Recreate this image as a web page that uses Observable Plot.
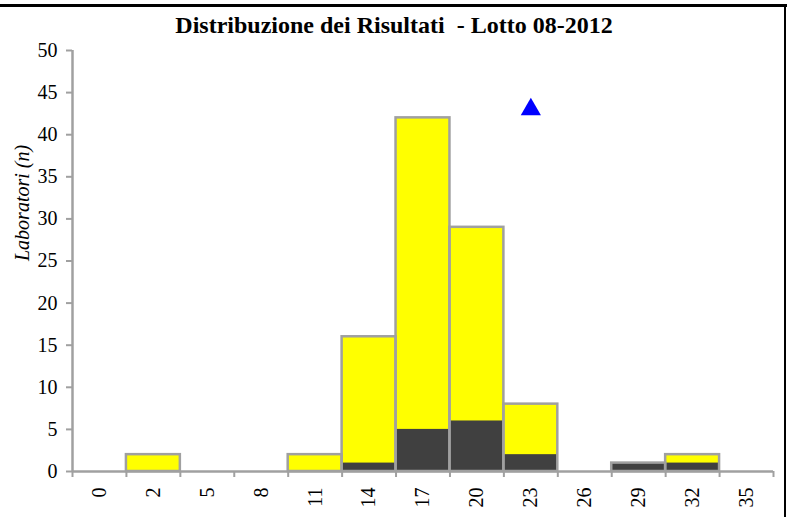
<!DOCTYPE html>
<html>
<head>
<meta charset="utf-8">
<script src="https://cdn.jsdelivr.net/npm/d3@7"></script>
<script src="https://cdn.jsdelivr.net/npm/@observablehq/plot@0.6"></script>
<style>
  body { margin: 0; background: #fff; }
  #wrap { position: relative; width: 787px; height: 517px; overflow: hidden; }
  #wrap svg { display: block; }
  #wrap svg, #wrap svg text, #wrap svg g { font-family: "Liberation Serif", "Times New Roman", serif !important; }
  .bt { position: absolute; left: 0; top: 4px; width: 787px; height: 3px; background: #000; }
  .br { position: absolute; left: 784px; top: 4px; width: 2px; height: 513px; background: #000; }
</style>
</head>
<body>
<div id="wrap"></div>
<script>
const categories = ["0","2","5","8","11","14","17","20","23","26","29","32","35"];
const totals     = [0, 2, 0, 0, 2, 16, 42, 29, 8, 0, 1, 2, 0];
const darkValues = [0, 0, 0, 0, 0, 1, 5, 6, 2, 0, 1, 1, 0];
const markerCategory = ["23"];
const markerValue = [43];
const yTicks = [0,5,10,15,20,25,30,35,40,45,50];
const title = "Distribuzione dei Risultati  - Lotto 08-2012";
const yLabel = "Laboratori (n)";

const W = 787, H = 517, mL = 72, mR = 14, mT = 50, mB = 46;
const bw = (W - mL - mR) / categories.length;
const titleShift = W / 2 - (mL + (W - mL - mR) / 2);

const totalData = categories.map((c, i) => ({c, v: totals[i]}));
const darkData = categories.map((c, i) => ({c, v: darkValues[i]}));
const markerData = markerCategory.map((c, i) => ({c, v: markerValue[i]}));
const gray = "#a0a0a0";
const font = "Liberation Serif";

const chart = Plot.plot({
  width: W, height: H,
  marginLeft: mL, marginRight: mR, marginTop: mT, marginBottom: mB,
  style: {fontFamily: font, fontSize: "20px", color: "#000", background: "#fff"},
  x: {type: "band", domain: categories, padding: 0, round: false},
  y: {domain: [0, 50]},
  marks: [
    Plot.barY(totalData.filter(d => d.v > 0), {x: "c", y: "v", fill: "#ffff00", inset: 0}),
    Plot.barY(darkData.filter(d => d.v > 0), {x: "c", y: "v", fill: "#404040", inset: 0}),
    Plot.barY(totalData.filter(d => d.v > 0), {x: "c", y: "v", fill: "none", stroke: gray, strokeWidth: 2.5, inset: 0}),
    Plot.ruleY([0], {stroke: gray, strokeWidth: 2.5}),
    Plot.ruleX([categories[0]], {y1: 0, y2: 50, dx: -bw/2, stroke: gray, strokeWidth: 2.5}),
    Plot.axisY({ticks: yTicks, tickSize: 6, stroke: gray, strokeWidth: 2, text: null, label: null}),
    Plot.axisY({ticks: yTicks, tickSize: 0, tickPadding: 15, fill: "#000", fontSize: 20, label: null}),
    Plot.axisX({tickSize: 6, dx: -bw/2, stroke: gray, strokeWidth: 2, text: null, label: null}),
    Plot.axisX({ticks: [categories[categories.length-1]], tickSize: 6, dx: bw/2, stroke: gray, strokeWidth: 2, text: null, label: null}),
    Plot.axisX({tickSize: 0, tickRotate: -90, tickPadding: 16, fill: "#000", fontSize: 20, label: null}),
    Plot.dot(markerData, {x: "c", y: "v", symbol: "triangle", r: 7.5, fill: "#0000ff", stroke: "none"}),
    Plot.text([title], {frameAnchor: "top", dx: titleShift, dy: -25, lineAnchor: "middle", fontWeight: "bold", fontSize: 24, fill: "#000"}),
    Plot.text([yLabel], {frameAnchor: "left", dx: -50, rotate: -90, lineAnchor: "middle", fontStyle: "italic", fontSize: 20, fill: "#000"})
  ]
});
const wrap = document.getElementById("wrap");
wrap.appendChild(chart);
const bt = document.createElement("div"); bt.className = "bt"; wrap.appendChild(bt);
const br = document.createElement("div"); br.className = "br"; wrap.appendChild(br);
</script>
</body>
</html>
